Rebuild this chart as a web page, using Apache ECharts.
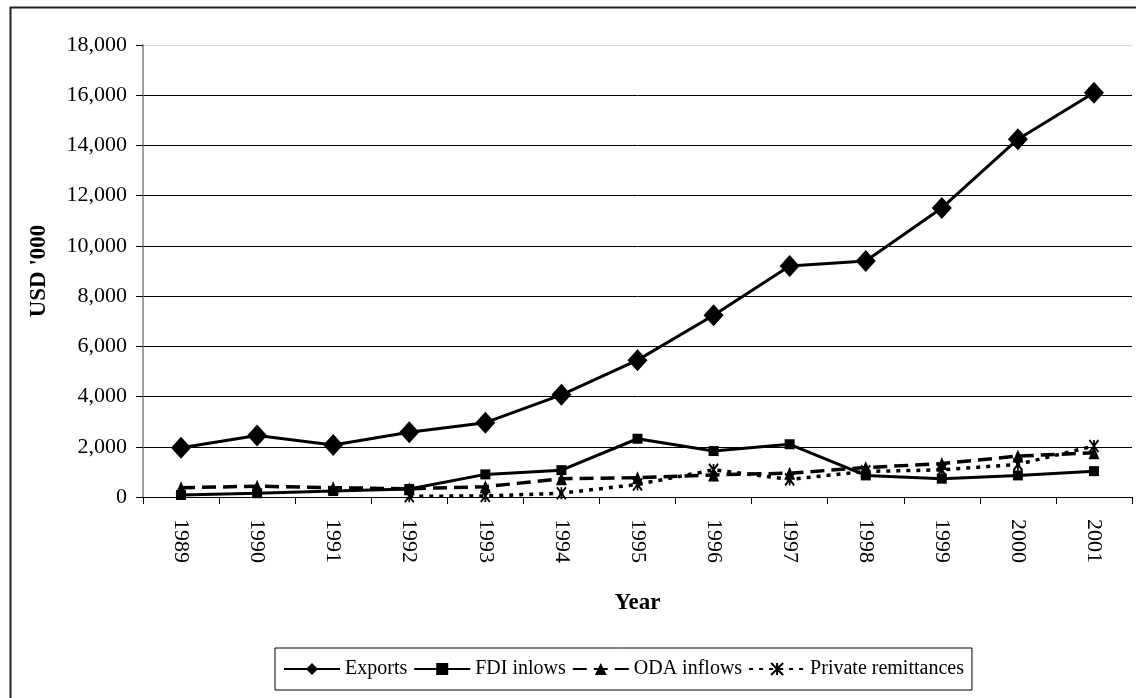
<!DOCTYPE html>
<html>
<head>
<meta charset="utf-8">
<script src="https://cdn.jsdelivr.net/npm/echarts@6/dist/echarts.min.js"></script>
<style>
html,body{margin:0;padding:0;background:#fff;}
#chart{width:1136px;height:698px;}
</style>
</head>
<body>
<div id="chart"></div>
<script>
var years = ['1989','1990','1991','1992','1993','1994','1995','1996','1997','1998','1999','2000','2001'];
var exportsData = [1960, 2450, 2070, 2580, 2960, 4070, 5450, 7240, 9200, 9400, 11510, 14250, 16100];
var fdiData = [80, 150, 240, 320, 900, 1070, 2320, 1830, 2100, 860, 730, 860, 1030];
var odaData = [370, 430, 370, 330, 410, 730, 770, 880, 950, 1170, 1330, 1630, 1760];
var remitData = [null, null, null, 30, 40, 150, 500, 1080, 700, 1020, 1080, 1300, 2030];
var seriesNames = ['Exports', 'FDI inlows', 'ODA inflows', 'Private remittances'];
var yTicks = {min: 0, max: 18000, interval: 2000};
var yName = "USD '000";
var xName = 'Year';

var FONT = "'Liberation Serif', 'Times New Roman', serif";
var chart = echarts.init(document.getElementById('chart'), null, {renderer: 'canvas'});
var asterisk = 'path://M0,0L10,12M10,0L0,12M5,0L5,12';

chart.setOption({
  backgroundColor: '#fff',
  animation: false,
  textStyle: {fontFamily: FONT, color: '#000'},
  graphic: [{
    type: 'rect', left: 8, top: 5, silent: true,
    shape: {x: 0, y: 0, width: 1200, height: 800},
    style: {fill: 'none', stroke: '#222', lineWidth: 2}
  }],
  grid: {left: 143, right: 4, top: 45, bottom: 201, containLabel: false},
  legend: {
    left: 275, top: 648,
    data: seriesNames,
    backgroundColor: '#fff',
    borderColor: '#000', borderWidth: 1,
    padding: [11, 8, 11, 8],
    itemWidth: 56, itemHeight: 15, itemGap: 6,
    textStyle: {fontFamily: FONT, fontSize: 20, color: '#000'}
  },
  xAxis: {
    type: 'category',
    data: years,
    boundaryGap: true,
    name: xName,
    nameLocation: 'middle',
    nameGap: 95,
    nameTextStyle: {fontFamily: FONT, fontSize: 23, fontWeight: 'bold', color: '#000'},
    axisLine: {lineStyle: {color: '#000', width: 1}},
    axisTick: {show: true, length: 7, lineStyle: {color: '#000'}},
    axisLabel: {rotate: -90, margin: 22, fontFamily: FONT, fontSize: 22, color: '#000'},
    splitLine: {show: false}
  },
  yAxis: {
    type: 'value',
    min: yTicks.min, max: yTicks.max, interval: yTicks.interval,
    name: yName,
    nameLocation: 'middle',
    nameGap: 92,
    nameRotate: 90,
    nameTextStyle: {fontFamily: FONT, fontSize: 23, fontWeight: 'bold', color: '#000'},
    axisLine: {show: true, lineStyle: {color: '#808080', width: 1.5}},
    axisTick: {show: true, length: 7, lineStyle: {color: '#000'}},
    axisLabel: {
      margin: 16, fontFamily: FONT, fontSize: 22, color: '#000',
      formatter: function (v) { return v.toLocaleString('en-US'); }
    },
    splitLine: {show: true, lineStyle: {color: ['#000','#000','#000','#000','#000','#000','#000','#000','#000','#d8d8d8'], width: 1}}
  },
  series: [
    {
      name: seriesNames[0], type: 'line', data: exportsData,
      symbol: 'diamond', symbolSize: [20, 22],
      lineStyle: {color: '#000', width: 3},
      itemStyle: {color: '#000'}
    },
    {
      name: seriesNames[1], type: 'line', data: fdiData,
      symbol: 'rect', symbolSize: 10,
      lineStyle: {color: '#000', width: 3},
      itemStyle: {color: '#000'}
    },
    {
      name: seriesNames[2], type: 'line', data: odaData,
      symbol: 'triangle', symbolSize: [11, 13],
      lineStyle: {color: '#000', width: 3.5, type: [14, 7]},
      itemStyle: {color: '#000'}
    },
    {
      name: seriesNames[3], type: 'line', data: remitData,
      symbol: asterisk, symbolSize: [9, 12],
      connectNulls: false,
      lineStyle: {color: '#000', width: 3.5, type: [4, 6]},
      itemStyle: {color: 'none', borderColor: '#000', borderWidth: 2}
    }
  ]
});
</script>
</body>
</html>
